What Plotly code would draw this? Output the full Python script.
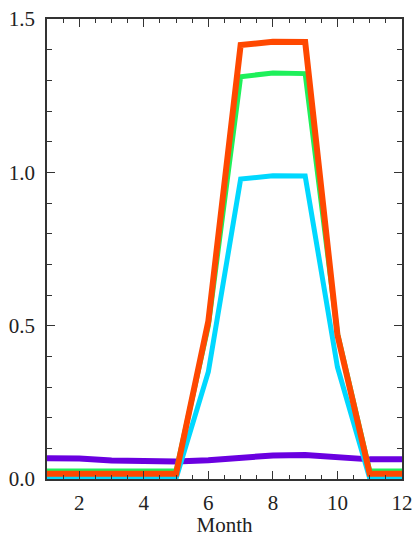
import plotly.graph_objects as go

months = [1, 2, 3, 4, 5, 6, 7, 8, 9, 10, 11, 12]
purple_vals = [0.068, 0.067, 0.060, 0.057, 0.057, 0.061, 0.069, 0.077, 0.078, 0.072, 0.064, 0.064]
cyan_vals = [0.002, 0.002, 0.002, 0.002, 0.002, 0.350, 0.978, 0.989, 0.988, 0.365, 0.002, 0.002]
green_vals = [0.026, 0.026, 0.026, 0.026, 0.026, 0.500, 1.312, 1.324, 1.322, 0.475, 0.026, 0.026]
red_vals = [0.017, 0.017, 0.017, 0.017, 0.017, 0.515, 1.415, 1.426, 1.425, 0.470, 0.017, 0.017]

y_ticks = [0.0, 0.5, 1.0, 1.5]
y_ticklabels = ["0.0", "0.5", "1.0", "1.5"]
x_ticks = [2, 4, 6, 8, 10, 12]

series = [
    (purple_vals, "#6a00e0", 6),
    (cyan_vals, "#00d8ff", 5),
    (green_vals, "#1ef05a", 5),
    (red_vals, "#ff4800", 6),
]

fig = go.Figure()
for vals, color, w in series:
    fig.add_trace(go.Scatter(x=months, y=vals, mode="lines",
                             line=dict(color=color, width=w),
                             showlegend=False, hoverinfo="skip"))

font_family = "Liberation Serif, DejaVu Serif, serif"
axis_common = dict(
    showgrid=False, zeroline=False, showline=True, linecolor="#333333",
    linewidth=1.5, mirror="ticks", ticks="inside", tickcolor="#333333",
    tickwidth=1.2, automargin=False,
    tickfont=dict(family=font_family, size=21, color="#222222"),
)

fig.update_layout(
    width=416, height=537,
    margin=dict(l=47, r=14, t=19, b=58),
    paper_bgcolor="white", plot_bgcolor="white",
    xaxis=dict(range=[1, 12], tickvals=x_ticks, ticklen=8,
               minor=dict(dtick=0.5, tick0=0, ticklen=4, ticks="inside",
                          tickcolor="#333333", tickwidth=1),
               ticklabelstandoff=4,
               title=dict(text="Month", font=dict(family=font_family, size=21, color="#222222"),
                          standoff=1),
               **axis_common),
    yaxis=dict(range=[0, 1.5], tickvals=y_ticks, ticktext=y_ticklabels, ticklen=8,
               minor=dict(dtick=0.1, tick0=0, ticklen=5, ticks="inside",
                          tickcolor="#333333", tickwidth=1),
               ticklabelstandoff=6,
               **axis_common),
)

fig.write_html("out.html")
